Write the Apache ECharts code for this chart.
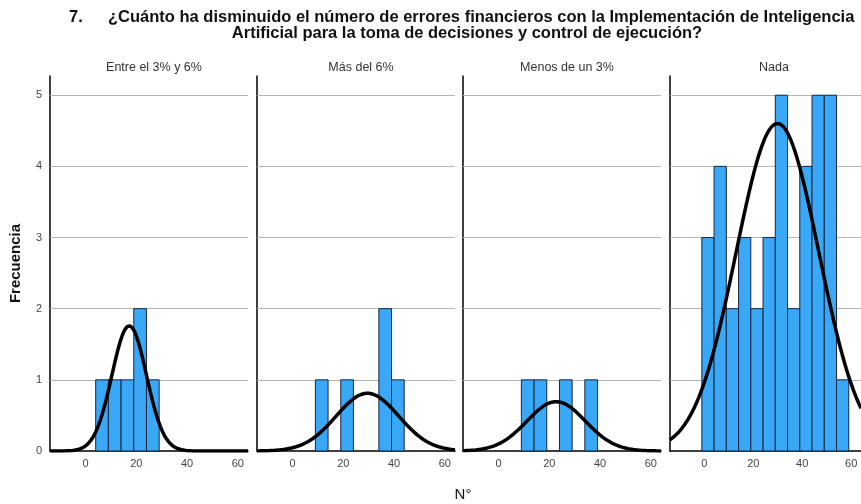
<!DOCTYPE html>
<html>
<head>
<meta charset="utf-8">
<script src="https://cdn.jsdelivr.net/npm/echarts@6/dist/echarts.min.js"></script>
<style>
  html, body { margin: 0; padding: 0; background: #fff; }
  #chart { width: 861px; height: 504px; }
</style>
</head>
<body>
<div id="chart"></div>
<script>
// Histogram bins shared by every panel (N°, width 5)
const binStarts = [-1, 4, 9, 14, 19, 24, 29, 34, 39, 44, 49, 54];
const binWidth = 5;

// Panel names and the frequency in each bin
const panelNames = ['Entre el 3% y 6%', 'Más del 6%', 'Menos de un 3%', 'Nada'];
const countsEntre = [0, 1, 1, 1, 2, 1, 0, 0, 0, 0, 0, 0];
const countsMas   = [0, 0, 1, 0, 1, 0, 0, 2, 1, 0, 0, 0];
const countsMenos = [0, 0, 1, 1, 0, 1, 0, 1, 0, 0, 0, 0];
const countsNada  = [3, 4, 2, 3, 2, 3, 5, 2, 4, 5, 5, 1];

// Normal curve parameters per panel: mean, standard deviation, N
const curveMeans = [17.2, 29.5, 22.7, 29.9];
const curveSds   = [6.8, 12.3, 11.5, 16.9];
const curveNs    = [6, 5, 4, 39];

// Axis ticks
const xTicks = [0, 20, 40, 60];
const freqTicks = [1, 2, 3, 4, 5];

const panelCounts = [countsEntre, countsMas, countsMenos, countsNada];

const X_MIN = -14, X_MAX = 64, Y_MAX = 5.27;
const panelLeft = [50, 257, 463, 670];
const panelWidth = 198;
const gridTop = 76, gridBottom = 53;
const FONT = 'Liberation Sans, Arial';

function normalCurve(mean, sd, n) {
  const pts = [];
  const scale = n * binWidth / (sd * Math.sqrt(2 * Math.PI));
  for (let x = X_MIN; x <= X_MAX + 0.001; x += 0.5) {
    const z = (x - mean) / sd;
    pts.push([x, scale * Math.exp(-0.5 * z * z)]);
  }
  return pts;
}

const grids = [], xAxes = [], yAxes = [], series = [], titles = [];

const headStyle = { fontFamily: FONT, fontSize: 16.5, fontWeight: 'bold', color: '#111' };
titles.push({ text: '7.', left: 64, top: 4, textStyle: headStyle });
titles.push({
  text: '¿Cuánto ha disminuido el número de errores financieros con la Implementación de Inteligencia',
  left: 103, top: 4, textStyle: headStyle
});
titles.push({
  text: 'Artificial para la toma de decisiones y control de ejecución?',
  left: 462, top: 20, textAlign: 'center', textStyle: headStyle
});
titles.push({
  text: 'N°', left: 458, top: 482, textAlign: 'center',
  textStyle: { fontFamily: FONT, fontSize: 15, fontWeight: 'normal', color: '#111' }
});

panelNames.forEach((name, i) => {
  grids.push({ left: panelLeft[i], top: gridTop, width: panelWidth, bottom: gridBottom, containLabel: false });
  titles.push({
    text: name, left: panelLeft[i] + panelWidth / 2, top: 56, textAlign: 'center',
    textStyle: { fontFamily: FONT, fontSize: 12.5, fontWeight: 'normal', color: '#333' }
  });
  xAxes.push({
    type: 'value', gridIndex: i, min: X_MIN, max: X_MAX, splitNumber: 8,
    axisLine: { show: true, onZero: false, lineStyle: { color: '#000', width: 1.5 } },
    axisTick: { show: false }, splitLine: { show: false },
    axisLabel: {
      color: '#444', fontSize: 11, fontFamily: FONT, margin: 7,
      showMinLabel: false, showMaxLabel: false,
      formatter: v => (xTicks.indexOf(v) >= 0 ? String(v) : '')
    }
  });
  yAxes.push({
    type: 'value', gridIndex: i, min: 0, max: Y_MAX,
    axisLine: { show: true, onZero: false, lineStyle: { color: '#000', width: 1.5 } },
    axisTick: { show: false }, splitLine: { show: false },
    axisLabel: {
      show: i === 0, color: '#444', fontSize: 11, fontFamily: FONT, margin: 8,
      formatter: v => (Number.isInteger(v) ? String(v) : '')
    },
    name: i === 0 ? 'Frecuencia' : '', nameLocation: 'middle', nameGap: 27, nameRotate: 90,
    nameTextStyle: { fontFamily: FONT, fontSize: 15, fontWeight: 'bold', color: '#111' }
  });

  const counts = panelCounts[i];
  const barData = [];
  binStarts.forEach((s, k) => { if (counts[k] > 0) barData.push([s, s + binWidth, counts[k]]); });

  series.push({
    type: 'custom', xAxisIndex: i, yAxisIndex: i, z: 2,
    data: barData,
    renderItem: (params, api) => {
      const p0 = api.coord([api.value(0), api.value(2)]);
      const p1 = api.coord([api.value(1), 0]);
      return {
        type: 'rect',
        shape: { x: p0[0], y: p0[1], width: p1[0] - p0[0], height: p1[1] - p0[1] },
        style: { fill: '#38a8f7', stroke: '#1b2340', lineWidth: 1 }
      };
    },
    markLine: {
      silent: true, symbol: 'none', label: { show: false }, animation: false, z: 1,
      lineStyle: { color: '#b4b4b4', width: 1, type: 'solid' },
      data: freqTicks.map(v => ({ yAxis: v }))
    }
  });
  series.push({
    type: 'line', xAxisIndex: i, yAxisIndex: i, z: 3,
    data: normalCurve(curveMeans[i], curveSds[i], curveNs[i]),
    showSymbol: false, smooth: false,
    lineStyle: { color: '#000', width: 3.5 },
    clip: true
  });
});

const chart = echarts.init(document.getElementById('chart'), null, { renderer: 'canvas' });
chart.setOption({
  animation: false,
  backgroundColor: '#fff',
  title: titles,
  grid: grids,
  xAxis: xAxes,
  yAxis: yAxes,
  series: series
});
</script>
</body>
</html>
